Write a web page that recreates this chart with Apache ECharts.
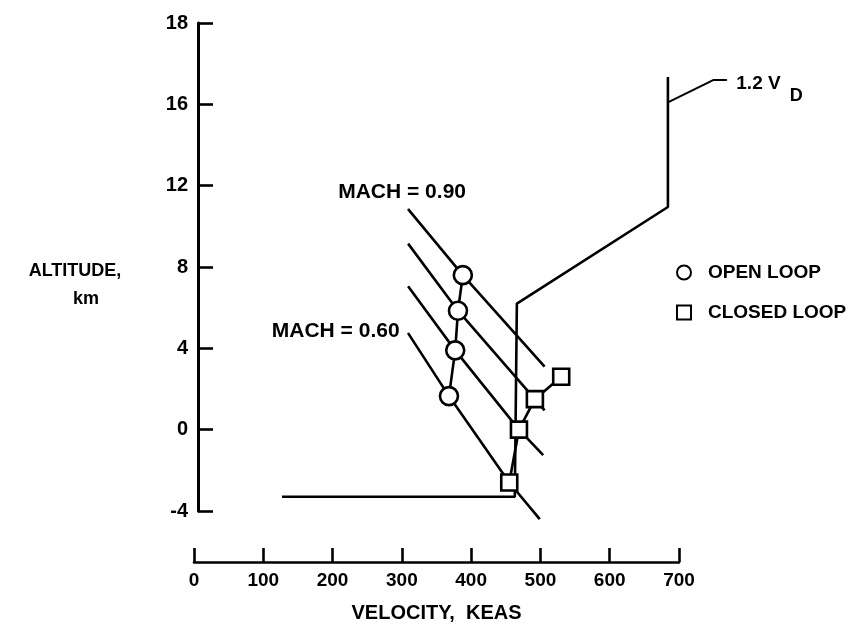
<!DOCTYPE html>
<html>
<head>
<meta charset="utf-8">
<script src="https://cdn.jsdelivr.net/npm/echarts@6/dist/echarts.min.js"></script>
<style>
html,body{margin:0;padding:0;background:#fff;}
#chart{width:856px;height:639px;}
</style>
</head>
<body>
<div id="chart"></div>
<script>
// ---- data (velocity KEAS, altitude km) ----
const yMin = -4, yMax = 20, yStep = 4;
const yTickLabels = ['-4', '0', '4', '8', '12', '16', '18'];

const openLoopVel = [388, 381, 377, 368];
const openLoopAlt = [7.6, 5.85, 3.9, 1.65];

const closedLoopVel = [455, 469, 492, 530];
const closedLoopAlt = [-2.6, 0, 1.5, 2.6];

const mach090Vel = [309, 388, 506];
const mach090Alt = [10.85, 7.6, 3.1];
const machB_Vel = [309, 381, 492, 506];
const machB_Alt = [9.15, 5.85, 1.5, 0.95];
const machC_Vel = [309, 377, 469, 504];
const machC_Alt = [7.05, 3.9, 0, -1.25];
const mach060Vel = [309, 368, 455, 499];
const mach060Alt = [4.75, 1.65, -2.6, -4.4];

const boundaryVel = [127, 463, 466, 684, 684];
const boundaryAlt = [-3.3, -3.3, 6.2, 10.95, 17.35];
const leaderVel = [684, 750, 769];
const leaderAlt = [16.1, 17.2, 17.2];

const FONT = "'Liberation Sans', Arial, sans-serif";
const zip = (xs, ys) => xs.map((x, i) => [x, ys[i]]);
const txt = (size) => ({fontFamily: FONT, fontWeight: 'bold', fontSize: size, color: '#000'});

const chart = echarts.init(document.getElementById('chart'), null, {renderer: 'canvas'});

const lineStyle = {color: '#000', width: 2.6};
function plainLine(name, data, extra) {
  return Object.assign({
    type: 'line', name: name, data: data, symbol: 'none', clip: false,
    lineStyle: lineStyle, silent: true, z: 2, animation: false
  }, extra || {});
}
function labelled(xs, ys, idx, label) {
  return zip(xs, ys).map((p, i) => i === idx ? {
    value: p, symbol: 'circle', symbolSize: 1, itemStyle: {color: '#000'},
    label: Object.assign({show: true}, label)
  } : p);
}

const m090 = labelled(mach090Vel, mach090Alt, 0,
  Object.assign({formatter: 'MACH = 0.90', position: 'top', distance: 6, offset: [-6, 0]}, txt(21)));
const m060 = labelled(mach060Vel, mach060Alt, 0,
  Object.assign({formatter: 'MACH = 0.60', position: 'left', distance: 8, offset: [0, -2]}, txt(21)));
const leader = labelled(leaderVel, leaderAlt, leaderVel.length - 1, {
  position: 'right', distance: 9, offset: [0, 5],
  formatter: '{a|1.2 V}{b|D}',
  rich: {
    a: Object.assign({verticalAlign: 'top', lineHeight: 22}, txt(19)),
    b: Object.assign({verticalAlign: 'top', lineHeight: 20, padding: [13, 0, 0, 9]}, txt(18))
  }
});

const option = {
  animation: false,
  backgroundColor: '#fff',
  grid: [
    {left: 194, width: 485, top: 23, bottom: 128, containLabel: false},
    {left: 194, width: 485 * 8 / 7, top: 23, bottom: 128, containLabel: false}
  ],
  legend: {
    orient: 'vertical', left: 671, top: 258, itemGap: 21,
    itemWidth: 14, itemHeight: 14,
    data: [{name: 'OPEN LOOP', icon: 'circle'}, {name: 'CLOSED LOOP', icon: 'rect'}],
    textStyle: Object.assign({padding: [0, 0, 0, 12]}, txt(19)),
    selectedMode: false
  },
  xAxis: [{
    type: 'value', gridIndex: 0, min: 0, max: 700, interval: 100, position: 'bottom', offset: 51,
    name: 'VELOCITY,  KEAS', nameLocation: 'middle', nameGap: 41,
    nameTextStyle: txt(20),
    axisLine: {show: true, onZero: false, lineStyle: {color: '#000', width: 2.6}},
    axisTick: {show: true, inside: true, length: 14, lineStyle: {color: '#000', width: 2.6}},
    axisLabel: Object.assign({margin: 9}, txt(19)),
    splitLine: {show: false}
  }, {
    type: 'value', gridIndex: 1, min: 0, max: 800, show: false, splitLine: {show: false}
  }],
  yAxis: [{
    type: 'value', gridIndex: 0, min: yMin, max: yMax, interval: yStep, position: 'left', offset: -4,
    name: '{a|ALTITUDE,}\n{b|km}', nameLocation: 'middle', nameRotate: 0, nameGap: 123,
    nameTextStyle: Object.assign({align: 'center', padding: [36, 0, 0, 0],
      rich: {
        a: Object.assign({lineHeight: 28}, txt(18)),
        b: Object.assign({lineHeight: 28, padding: [0, 0, 0, 22]}, txt(18))
      }}, txt(18)),
    axisLine: {show: true, onZero: false, lineStyle: {color: '#000', width: 3}},
    axisTick: {show: true, inside: true, length: 15, lineStyle: {color: '#000', width: 2.6}},
    axisLabel: Object.assign({margin: 10,
      formatter: v => yTickLabels[Math.round((v - yMin) / yStep)]}, txt(20)),
    splitLine: {show: false}
  }, {
    type: 'value', gridIndex: 1, min: yMin, max: yMax, show: false, splitLine: {show: false}
  }],
  series: [
    plainLine('boundary', zip(boundaryVel, boundaryAlt)),
    plainLine('leader', leader, {xAxisIndex: 1, yAxisIndex: 1, lineStyle: {color: '#000', width: 2}}),
    plainLine('m090', m090),
    plainLine('mB', zip(machB_Vel, machB_Alt)),
    plainLine('mC', zip(machC_Vel, machC_Alt)),
    plainLine('m060', m060),
    {
      type: 'line', name: 'OPEN LOOP', data: zip(openLoopVel, openLoopAlt),
      symbol: 'circle', symbolSize: 18, showAllSymbol: true, clip: false,
      lineStyle: lineStyle,
      itemStyle: {color: '#fff', borderColor: '#000', borderWidth: 2.6},
      z: 5, animation: false
    },
    {
      type: 'line', name: 'CLOSED LOOP', data: zip(closedLoopVel, closedLoopAlt),
      symbol: 'rect', symbolSize: 16, showAllSymbol: true, clip: false,
      lineStyle: lineStyle,
      itemStyle: {color: '#fff', borderColor: '#000', borderWidth: 2.6},
      z: 5, animation: false
    }
  ]
};
chart.setOption(option);
</script>
</body>
</html>
